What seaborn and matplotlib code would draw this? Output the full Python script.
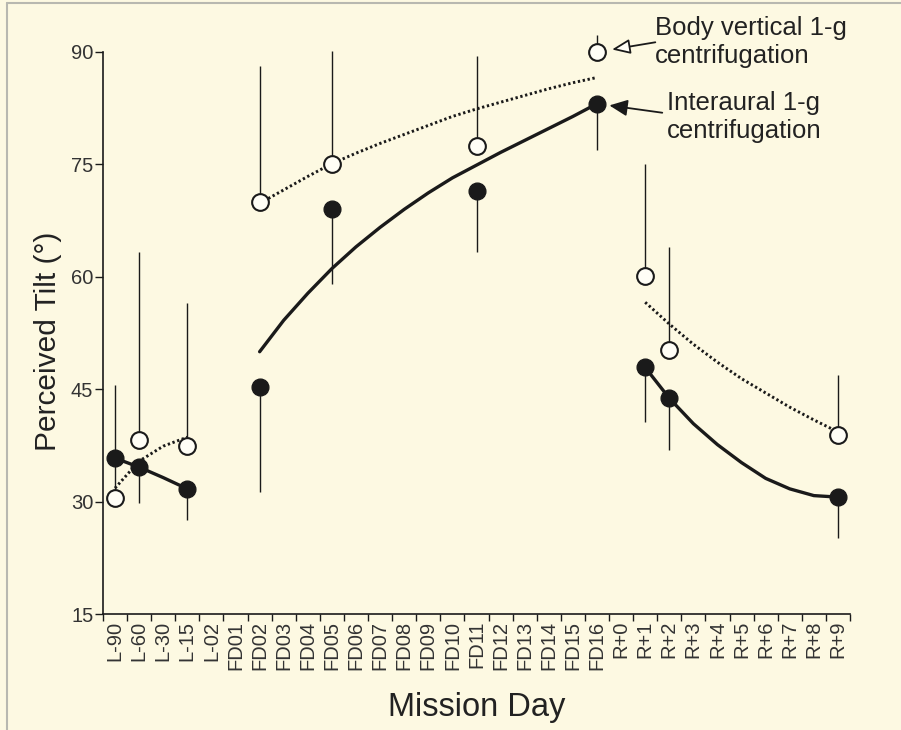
import pandas as pd
import matplotlib
matplotlib.use("Agg")
import matplotlib.pyplot as plt
from matplotlib.lines import Line2D
import seaborn as sns

# Mission days on the x axis
days = ["L-90", "L-60", "L-30", "L-15", "L-02",
        "FD01", "FD02", "FD03", "FD04", "FD05", "FD06", "FD07", "FD08",
        "FD09", "FD10", "FD11", "FD12", "FD13", "FD14", "FD15", "FD16",
        "R+0", "R+1", "R+2", "R+3", "R+4", "R+5", "R+6", "R+7", "R+8", "R+9"]

# measured points
obs_days = ["L-90", "L-60", "L-15", "FD02", "FD05", "FD11", "FD16", "R+1", "R+2", "R+9"]
body_vert = [30.5, 38.2, 37.4, 70.0, 75.0, 77.5, 90.0, 60.1, 50.2, 38.9]
body_vert_hi = [45.5, 63.3, 56.5, 88.1, 90.1, 89.5, 92.3, 75.1, 64.0, 46.9]
interaural = [35.8, 34.6, 31.7, 45.3, 69.0, 71.4, 83.1, 47.9, 43.8, 30.6]
interaural_lo = [35.8, 29.8, 27.5, 31.3, 59.0, 63.3, 76.9, 40.6, 36.9, 25.1]

# fitted curves
pre_days = ["L-90", "L-60", "L-30", "L-15"]
pre_bv_fit = [31.8, 35.4, 37.4, 38.6]
pre_ia_fit = [35.8, 34.6, 33.2, 31.7]

flight_days = ["FD02", "FD03", "FD04", "FD05", "FD06", "FD07", "FD08", "FD09",
               "FD10", "FD11", "FD12", "FD13", "FD14", "FD15", "FD16"]
flight_bv_fit = [69.8, 71.6, 73.4, 75.1, 76.5, 77.8, 79.0, 80.2,
                 81.4, 82.4, 83.3, 84.2, 85.1, 85.9, 86.6]
flight_ia_fit = [50.0, 54.2, 57.8, 61.1, 64.0, 66.6, 69.0, 71.2,
                 73.2, 74.9, 76.6, 78.2, 79.8, 81.4, 83.1]

post_days = ["R+1", "R+2", "R+3", "R+4", "R+5", "R+6", "R+7", "R+8", "R+9"]
post_bv_fit = [56.6, 53.7, 51.0, 48.6, 46.4, 44.5, 42.6, 40.9, 39.3]
post_ia_fit = [47.9, 43.8, 40.4, 37.6, 35.2, 33.1, 31.7, 30.8, 30.6]

bg = "#fdf9e2"
ink = "#1a1a1a"

sns.set_style("ticks")
plt.rcParams["font.family"] = ["Liberation Sans", "DejaVu Sans"]

pos = {d: i for i, d in enumerate(days)}
pts = pd.DataFrame({"day": obs_days, "bv": body_vert, "bv_hi": body_vert_hi,
                    "ia": interaural, "ia_lo": interaural_lo})
pts["x"] = pts["day"].map(pos)

fig = plt.figure(figsize=(9.01, 7.30), dpi=100, facecolor=bg)
ax = fig.add_axes([103 / 901, 1 - 614 / 730, 747 / 901, 562 / 730])
ax.set_facecolor(bg)

# fit curves
for dd, vals, style in [(pre_days, pre_bv_fit, "dot"), (flight_days, flight_bv_fit, "dot"),
                        (post_days, post_bv_fit, "dot"), (pre_days, pre_ia_fit, "solid"),
                        (flight_days, flight_ia_fit, "solid"), (post_days, post_ia_fit, "solid")]:
    xs = [pos[d] for d in dd]
    if style == "dot":
        sns.lineplot(x=xs, y=vals, ax=ax, color=ink, lw=2.1, linestyle=(0, (0.8, 0.9)),
                     sort=False, zorder=2)
    else:
        sns.lineplot(x=xs, y=vals, ax=ax, color=ink, lw=2.4, sort=False, zorder=3)

# one-sided error bars
ax.vlines(pts["x"], pts["bv"], pts["bv_hi"], color=ink, lw=1.0, zorder=1, clip_on=False)
ax.vlines(pts["x"], pts["ia_lo"], pts["ia"], color=ink, lw=1.0, zorder=1, clip_on=False)

sns.scatterplot(data=pts, x="x", y="bv", ax=ax, s=145, color="#fffef6", edgecolor=ink,
                linewidth=1.5, zorder=4, clip_on=False)
sns.scatterplot(data=pts, x="x", y="ia", ax=ax, s=145, color=ink, edgecolor=ink,
                linewidth=1.0, zorder=5, clip_on=False)

ax.set_xlim(-0.5, len(days) - 0.5)
ax.set_ylim(15, 90)
ax.set_yticks([15, 30, 45, 60, 75, 90])
ax.set_xticks(range(len(days)))
ax.set_xticklabels(days, rotation=90)
ax.set_xticks([i - 0.5 for i in range(len(days) + 1)], minor=True)
ax.tick_params(axis="x", which="major", length=0, pad=5, labelsize=14.5)
ax.tick_params(axis="x", which="minor", length=5, width=1.0, color=ink)
ax.tick_params(axis="y", length=6, width=1.0, pad=1, labelsize=14.5, color=ink)
for t in ax.get_yticklabels() + ax.get_xticklabels():
    t.set_color("#333333")

for s in ["top", "right"]:
    ax.spines[s].set_visible(False)
for s in ["left", "bottom"]:
    ax.spines[s].set_color(ink)
    ax.spines[s].set_linewidth(1.2)

ax.set_xlabel("Mission Day", fontsize=23.5, color="#222222", labelpad=16)
ax.set_ylabel("Perceived Tilt (°)", fontsize=21.5, color="#222222")
ax.yaxis.set_label_coords(-0.055, 0.486)

# annotations
x16 = pos["FD16"]
ax.annotate("", xy=(x16, 90), xytext=(42, 7), textcoords="offset points",
            arrowprops=dict(arrowstyle="-|>,head_length=1.1,head_width=0.45",
                            fc="#fffef6", ec=ink, lw=1.3, shrinkA=0, shrinkB=11))
ax.annotate("", xy=(x16, 83.1), xytext=(47, -6.5), textcoords="offset points",
            arrowprops=dict(arrowstyle="-|>,head_length=1.1,head_width=0.5",
                            fc=ink, ec=ink, lw=1.3, shrinkA=0, shrinkB=9))
fig.text(655 / 901, 1 - 63 / 730, "Body vertical 1-g\ncentrifugation", fontsize=18.5,
         color="#222222", ha="left", va="baseline", linespacing=1.2)
fig.text(667 / 901, 1 - 138 / 730, "Interaural 1-g\ncentrifugation", fontsize=18.5,
         color="#222222", ha="left", va="baseline", linespacing=1.2)

# scanned page frame
fig.add_artist(Line2D([7 / 901, 7 / 901], [0, 1 - 3 / 730], transform=fig.transFigure,
                      color="#b8b8b0", lw=1.5))
fig.add_artist(Line2D([7 / 901, 1], [1 - 3 / 730, 1 - 3 / 730], transform=fig.transFigure,
                      color="#b8b8b0", lw=1.5))

fig.savefig("out.png", dpi=100, facecolor=bg)
